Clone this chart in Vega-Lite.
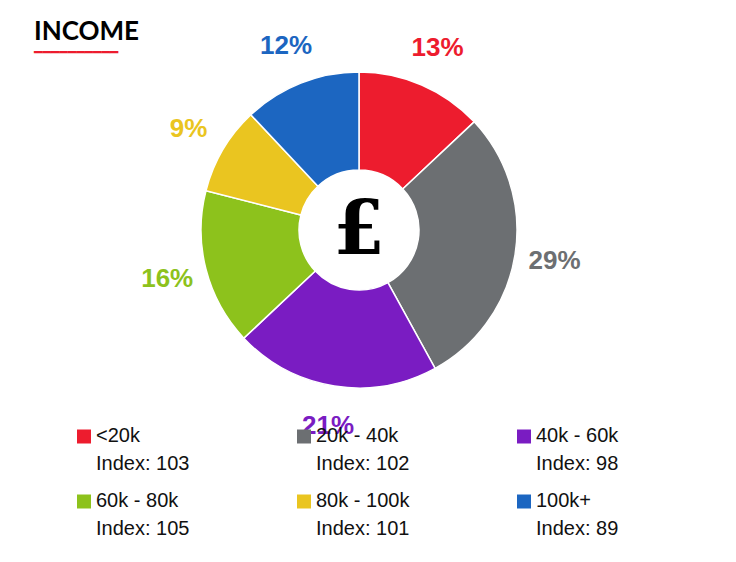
{
  "$schema": "https://vega.github.io/schema/vega-lite/v6.json",
  "padding": {"left": 0, "top": 18, "right": 0, "bottom": 0},
  "background": "white",
  "spacing": 0,
  "bounds": "flush",
  "config": {"view": {"stroke": null}, "font": "Liberation Sans", "header": {"labels": false, "title": null, "labelFontSize": 0, "labelPadding": 0, "titlePadding": 0}},
  "datasets": {
    "income": [
      {"segment": "<20k", "pct": 0.13, "index": 103, "order": 1},
      {"segment": "20k - 40k", "pct": 0.29, "index": 102, "order": 2},
      {"segment": "40k - 60k", "pct": 0.21, "index": 98, "order": 3},
      {"segment": "60k - 80k", "pct": 0.16, "index": 105, "order": 4},
      {"segment": "80k - 100k", "pct": 0.09, "index": 101, "order": 5},
      {"segment": "100k+", "pct": 0.12, "index": 89, "order": 6}
    ]
  },
  "vconcat": [
    {
      "width": 718,
      "height": 350,
      "title": {
        "text": "INCOME",
        "subtitle": "━━━━━━━━━━",
        "anchor": "start",
        "frame": "group",
        "dx": 34,
        "font": "Lato",
        "fontSize": 26,
        "fontWeight": "bold",
        "color": "black",
        "subtitleFont": "DejaVu Sans",
        "subtitleFontSize": 14,
        "subtitleColor": "#ED1C2E",
        "subtitlePadding": 1,
        "offset": -27
      },
      "layer": [
        {
          "data": {"name": "income"},
          "mark": {"type": "arc", "outerRadius": 158, "innerRadius": 60, "stroke": "white", "strokeWidth": 1.5},
          "encoding": {
            "theta": {"field": "pct", "type": "quantitative", "stack": true},
            "order": {"field": "order", "type": "quantitative"},
            "color": {
              "field": "segment",
              "type": "nominal",
              "scale": {
                "domain": ["<20k", "20k - 40k", "40k - 60k", "60k - 80k", "80k - 100k", "100k+"],
                "range": ["#ED1C2E", "#6C6F72", "#7A1CC2", "#8DC21C", "#EAC520", "#1C66C1"]
              },
              "legend": null
            }
          }
        },
        {
          "data": {"name": "income"},
          "mark": {"type": "text", "radius": 198, "font": "Liberation Sans", "fontSize": 26, "fontWeight": "bold", "align": "center", "baseline": "middle"},
          "encoding": {
            "theta": {"field": "pct", "type": "quantitative", "stack": true},
            "order": {"field": "order", "type": "quantitative"},
            "text": {"field": "pct", "type": "quantitative", "format": ".0%"},
            "color": {"field": "segment", "type": "nominal", "legend": null}
          }
        },
        {
          "data": {"values": [{"symbol": "£"}]},
          "mark": {"type": "text", "font": "DejaVu Serif", "fontSize": 74, "fontWeight": "bold", "align": "center", "baseline": "middle", "color": "black", "dy": 2},
          "encoding": {"text": {"field": "symbol", "type": "nominal"}}
        }
      ]
    },
    {
      "data": {"name": "income"},
      "transform": [{"calculate": "'Index: ' + datum.index", "as": "indexLabel"}],
      "columns": 3,
      "spacing": 0,
      "bounds": "flush",
      "facet": {"field": "segment", "type": "nominal", "sort": {"field": "order"}, "header": {"title": null, "labels": false, "labelPadding": 0}},
      "spec": {
        "width": 220,
        "height": 65,
        "layer": [
          {
            "mark": {"type": "point", "shape": "square", "filled": true, "size": 196, "opacity": 1, "strokeWidth": 0},
            "encoding": {
              "xOffset": {"value": -26},
              "yOffset": {"value": -1},
              "color": {"field": "segment", "type": "nominal", "legend": null,
                "scale": {
                  "domain": ["<20k", "20k - 40k", "40k - 60k", "60k - 80k", "80k - 100k", "100k+"],
                  "range": ["#ED1C2E", "#6C6F72", "#7A1CC2", "#8DC21C", "#EAC520", "#1C66C1"]
                }
              }
            }
          },
          {
            "mark": {"type": "text", "align": "left", "baseline": "middle", "dx": -14, "dy": -1.5, "fontSize": 20, "color": "#111111"},
            "encoding": {"text": {"field": "segment", "type": "nominal"}}
          },
          {
            "mark": {"type": "text", "align": "left", "baseline": "middle", "dx": -14, "dy": 26.5, "fontSize": 20, "color": "#111111"},
            "encoding": {"text": {"field": "indexLabel", "type": "nominal"}}
          }
        ]
      }
    }
  ]
}
